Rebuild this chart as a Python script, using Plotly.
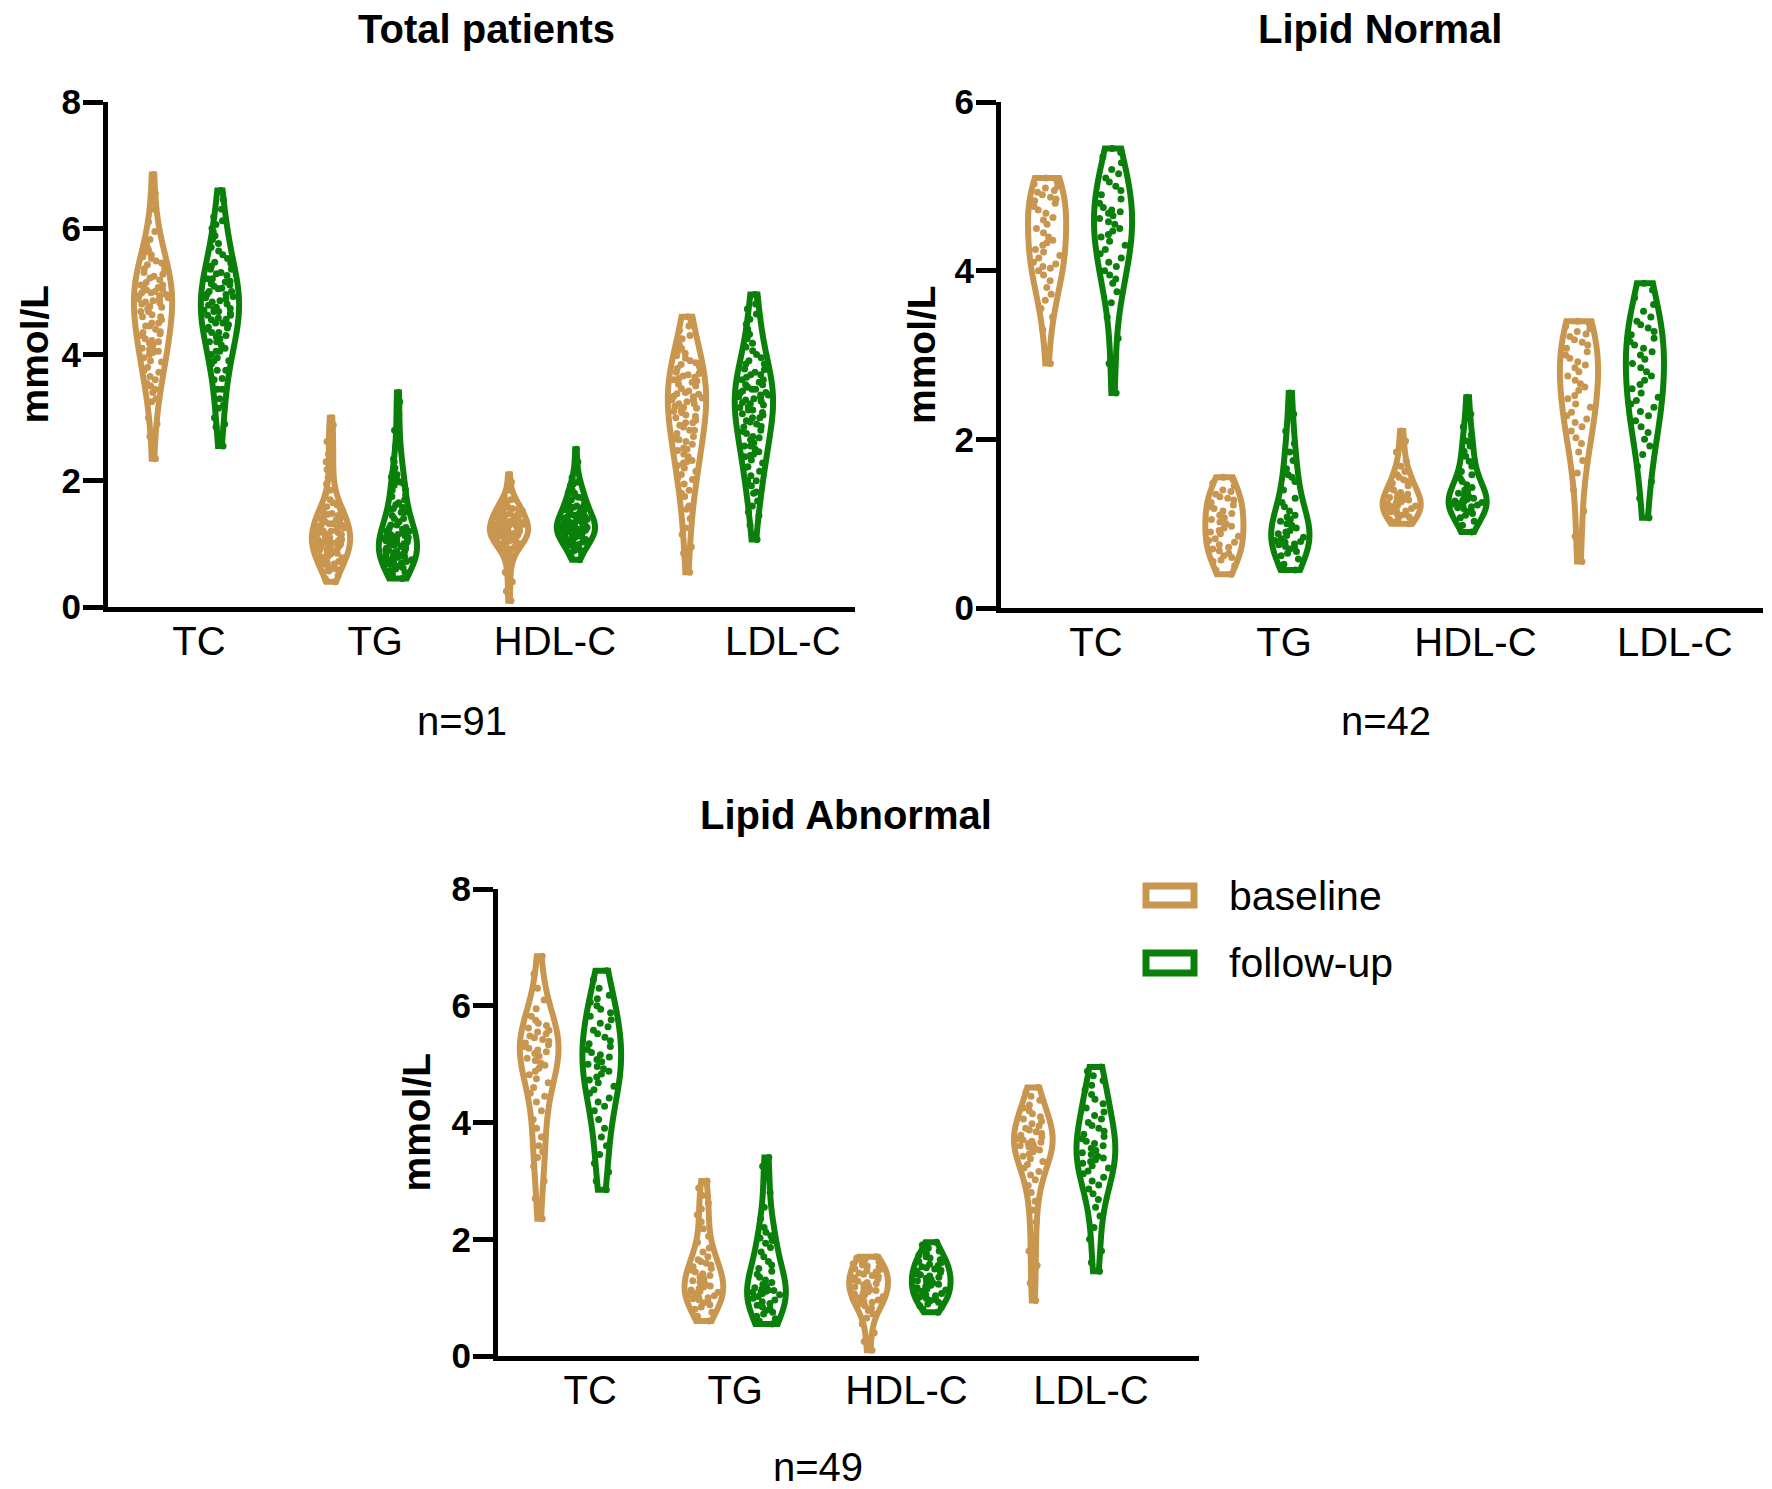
import numpy as np
import plotly.graph_objects as go

categories = ["TC", "TG", "HDL-C", "LDL-C"]
titles = ["Total patients", "Lipid Normal", "Lipid Abnormal"]
n_labels = ["n=91", "n=42", "n=49"]
group_names = ["baseline", "follow-up"]
y_ticks_8 = [0, 2, 4, 6, 8]
y_ticks_6 = [0, 2, 4, 6]

# ---- Lipid Normal (n=42) ----
norm_tc_base = [2.90, 3.30, 3.45, 3.55, 3.65, 3.72, 3.80, 3.88, 3.95, 4.00, 4.03, 4.05, 4.08, 4.10, 4.15, 4.18, 4.22, 4.25, 4.30, 4.33, 4.36, 4.40, 4.45, 4.50, 4.55, 4.60, 4.63, 4.68, 4.72, 4.76, 4.80, 4.83, 4.85, 4.87, 4.90, 4.93, 4.95, 4.98, 5.00, 5.03, 5.06, 5.10]
norm_tc_fu = [2.55, 2.90, 3.20, 3.45, 3.62, 3.75, 3.85, 3.90, 3.95, 4.00, 4.05, 4.10, 4.15, 4.20, 4.25, 4.30, 4.35, 4.40, 4.43, 4.47, 4.50, 4.55, 4.58, 4.62, 4.65, 4.68, 4.70, 4.72, 4.75, 4.80, 4.85, 4.90, 4.95, 5.00, 5.05, 5.10, 5.15, 5.20, 5.28, 5.35, 5.40, 5.45]
norm_tg_base = [0.40, 0.45, 0.50, 0.55, 0.57, 0.60, 0.62, 0.65, 0.68, 0.70, 0.72, 0.75, 0.78, 0.80, 0.82, 0.85, 0.88, 0.90, 0.92, 0.95, 0.97, 1.00, 1.02, 1.05, 1.07, 1.10, 1.12, 1.15, 1.18, 1.20, 1.22, 1.25, 1.28, 1.30, 1.32, 1.35, 1.38, 1.40, 1.45, 1.48, 1.52, 1.55]
norm_tg_fu = [0.45, 0.52, 0.58, 0.62, 0.65, 0.67, 0.70, 0.72, 0.73, 0.75, 0.76, 0.78, 0.79, 0.80, 0.82, 0.84, 0.86, 0.88, 0.90, 0.92, 0.95, 0.98, 1.00, 1.03, 1.05, 1.08, 1.10, 1.15, 1.20, 1.25, 1.30, 1.40, 1.50, 1.55, 1.58, 1.65, 1.75, 1.85, 1.95, 2.10, 2.30, 2.55]
norm_hdl_base = [1.00, 1.02, 1.04, 1.05, 1.06, 1.08, 1.10, 1.11, 1.12, 1.14, 1.15, 1.16, 1.18, 1.19, 1.20, 1.21, 1.22, 1.24, 1.25, 1.26, 1.28, 1.29, 1.30, 1.31, 1.32, 1.34, 1.35, 1.37, 1.40, 1.42, 1.45, 1.48, 1.50, 1.52, 1.55, 1.58, 1.62, 1.68, 1.75, 1.85, 1.98, 2.10]
norm_hdl_fu = [0.90, 0.98, 1.03, 1.07, 1.10, 1.12, 1.14, 1.16, 1.18, 1.19, 1.20, 1.21, 1.22, 1.23, 1.24, 1.25, 1.26, 1.27, 1.28, 1.29, 1.30, 1.32, 1.34, 1.36, 1.38, 1.40, 1.43, 1.46, 1.50, 1.54, 1.58, 1.62, 1.68, 1.74, 1.80, 1.86, 1.92, 1.98, 2.05, 2.15, 2.30, 2.50]
norm_ldl_base = [0.55, 0.85, 1.15, 1.40, 1.60, 1.75, 1.85, 1.95, 2.02, 2.10, 2.15, 2.20, 2.24, 2.28, 2.32, 2.38, 2.42, 2.48, 2.52, 2.58, 2.62, 2.66, 2.70, 2.75, 2.80, 2.85, 2.88, 2.92, 2.96, 3.00, 3.04, 3.08, 3.12, 3.15, 3.18, 3.22, 3.25, 3.28, 3.31, 3.34, 3.37, 3.40]
norm_ldl_fu = [1.07, 1.30, 1.50, 1.68, 1.82, 1.92, 2.00, 2.08, 2.15, 2.22, 2.28, 2.33, 2.38, 2.42, 2.46, 2.50, 2.55, 2.60, 2.65, 2.70, 2.75, 2.80, 2.85, 2.90, 2.95, 3.00, 3.04, 3.08, 3.12, 3.16, 3.20, 3.24, 3.28, 3.32, 3.36, 3.40, 3.45, 3.52, 3.60, 3.68, 3.77, 3.85]

# ---- Lipid Abnormal (n=49) ----
abn_tc_base = [2.35, 2.70, 3.00, 3.25, 3.40, 3.50, 3.60, 3.75, 3.90, 4.05, 4.20, 4.35, 4.45, 4.50, 4.60, 4.68, 4.75, 4.82, 4.88, 4.93, 4.98, 5.02, 5.06, 5.10, 5.14, 5.18, 5.21, 5.24, 5.27, 5.30, 5.33, 5.36, 5.39, 5.42, 5.45, 5.48, 5.52, 5.55, 5.58, 5.62, 5.66, 5.70, 5.75, 5.82, 5.95, 6.10, 6.30, 6.55, 6.85]
abn_tc_fu = [2.85, 3.00, 3.15, 3.30, 3.45, 3.60, 3.75, 3.90, 4.05, 4.20, 4.28, 4.35, 4.42, 4.50, 4.56, 4.62, 4.68, 4.73, 4.78, 4.83, 4.88, 4.92, 4.96, 5.00, 5.04, 5.08, 5.12, 5.16, 5.20, 5.25, 5.30, 5.35, 5.40, 5.46, 5.52, 5.58, 5.64, 5.70, 5.76, 5.82, 5.88, 5.94, 6.00, 6.06, 6.12, 6.18, 6.30, 6.45, 6.60]
abn_tg_base = [0.60, 0.68, 0.75, 0.80, 0.84, 0.88, 0.91, 0.94, 0.96, 0.98, 1.00, 1.01, 1.03, 1.05, 1.07, 1.09, 1.11, 1.13, 1.15, 1.18, 1.20, 1.23, 1.26, 1.29, 1.32, 1.35, 1.38, 1.41, 1.44, 1.47, 1.50, 1.53, 1.56, 1.59, 1.62, 1.65, 1.70, 1.78, 1.85, 1.95, 2.05, 2.18, 2.30, 2.42, 2.52, 2.62, 2.75, 2.88, 3.00]
abn_tg_fu = [0.55, 0.60, 0.64, 0.68, 0.72, 0.75, 0.78, 0.81, 0.84, 0.87, 0.90, 0.93, 0.96, 0.99, 1.02, 1.05, 1.07, 1.09, 1.10, 1.11, 1.12, 1.13, 1.15, 1.17, 1.20, 1.23, 1.26, 1.30, 1.35, 1.40, 1.45, 1.50, 1.56, 1.62, 1.70, 1.78, 1.86, 1.93, 1.98, 2.02, 2.06, 2.12, 2.20, 2.35, 2.55, 2.80, 3.05, 3.25, 3.40]
abn_hdl_base = [0.10, 0.25, 0.40, 0.55, 0.65, 0.72, 0.78, 0.82, 0.86, 0.89, 0.92, 0.94, 0.96, 0.98, 1.00, 1.02, 1.04, 1.06, 1.08, 1.10, 1.12, 1.14, 1.16, 1.18, 1.20, 1.22, 1.24, 1.26, 1.28, 1.30, 1.32, 1.34, 1.36, 1.38, 1.40, 1.42, 1.44, 1.46, 1.48, 1.50, 1.52, 1.54, 1.56, 1.58, 1.60, 1.62, 1.65, 1.68, 1.70]
abn_hdl_fu = [0.75, 0.80, 0.83, 0.86, 0.89, 0.92, 0.95, 0.97, 0.99, 1.01, 1.03, 1.05, 1.07, 1.09, 1.11, 1.13, 1.15, 1.17, 1.19, 1.21, 1.23, 1.25, 1.27, 1.29, 1.31, 1.33, 1.35, 1.37, 1.39, 1.41, 1.43, 1.45, 1.47, 1.49, 1.51, 1.53, 1.55, 1.57, 1.60, 1.62, 1.65, 1.68, 1.70, 1.73, 1.76, 1.80, 1.85, 1.90, 1.95]
abn_ldl_base = [0.95, 1.25, 1.55, 1.80, 2.05, 2.30, 2.50, 2.65, 2.80, 2.92, 3.02, 3.10, 3.16, 3.22, 3.28, 3.33, 3.38, 3.42, 3.46, 3.50, 3.53, 3.56, 3.58, 3.60, 3.62, 3.64, 3.66, 3.68, 3.70, 3.72, 3.75, 3.78, 3.81, 3.84, 3.87, 3.90, 3.94, 3.98, 4.02, 4.06, 4.10, 4.15, 4.20, 4.25, 4.30, 4.38, 4.45, 4.52, 4.60]
abn_ldl_fu = [1.45, 1.60, 1.80, 2.00, 2.20, 2.40, 2.55, 2.68, 2.78, 2.86, 2.93, 3.00, 3.06, 3.12, 3.17, 3.22, 3.26, 3.30, 3.33, 3.36, 3.39, 3.42, 3.45, 3.48, 3.52, 3.56, 3.60, 3.64, 3.68, 3.72, 3.76, 3.80, 3.85, 3.90, 3.95, 4.00, 4.06, 4.12, 4.18, 4.25, 4.32, 4.40, 4.48, 4.56, 4.64, 4.72, 4.80, 4.88, 4.95]

normal_base = [norm_tc_base, norm_tg_base, norm_hdl_base, norm_ldl_base]
normal_fu = [norm_tc_fu, norm_tg_fu, norm_hdl_fu, norm_ldl_fu]
abn_base = [abn_tc_base, abn_tg_base, abn_hdl_base, abn_ldl_base]
abn_fu = [abn_tc_fu, abn_tg_fu, abn_hdl_fu, abn_ldl_fu]
# Total patients = Normal + Abnormal
total_base = [a + b for a, b in zip(normal_base, abn_base)]
total_fu = [a + b for a, b in zip(normal_fu, abn_fu)]

panels = [(total_base, total_fu), (normal_base, normal_fu), (abn_base, abn_fu)]

# ---------------- styling / layout ----------------
colors = ["#C9964F", "#0A800A"]
FONT = "Liberation Sans, Arial, sans-serif"
W, H = 1772, 1489
OFF = 8  # page body margin in the browser

def px(x):
    return (x - OFF) / W

def py(y):
    return 1 - (y - OFF) / H

boxes = [(108, 855, 102, 607), (1001, 1763, 102, 608), (498, 1199, 889, 1356)]  # l, r, t, b px
y_tops = [8, 6, 8]
x_ranges = [[-0.441, 3.756], [-0.446, 3.852], [-0.44, 3.816]]
group_offsets = [[-0.188, 0.188], [-0.186, 0.186], [-0.19, 0.19]]
violin_widths = [0.215, 0.215, 0.235]
label_pos = [[0.07, 1.06, 2.07, 3.35], [0.09, 1.15, 2.23, 3.355], [0.12, 1.0, 2.04, 3.16]]
title_xy = [(487, 29), (1380, 29), (846, 815)]
n_xy = [(462, 721), (1386, 721), (818, 1467)]
ytitle_x = [34, 921, 416]
BW_FACTOR = 1.25

def silverman(v):
    v = np.asarray(v, dtype=float)
    q75, q25 = np.percentile(v, [75, 25])
    s = min(np.std(v, ddof=1), (q75 - q25) / 1.349)
    return 1.059 * s * len(v) ** (-0.2)

fig = go.Figure()
layout = dict(
    width=W, height=H, margin=dict(l=0, r=0, t=0, b=0, autoexpand=False),
    paper_bgcolor="white", plot_bgcolor="white",
    violinmode="overlay",
    font=dict(family=FONT, color="black"),
    showlegend=False,
)

annotations, shapes = [], []
for p, (base, fu) in enumerate(panels):
    sfx = "" if p == 0 else str(p + 1)
    xa, ya = "x" + sfx, "y" + sfx
    for g, data in enumerate([base, fu]):
        for i, vals in enumerate(data):
            fig.add_trace(go.Violin(
                x=[i + group_offsets[p][g]] * len(vals), y=vals,
                name=group_names[g], xaxis=xa, yaxis=ya,
                showlegend=False, width=violin_widths[p],
                bandwidth=BW_FACTOR * silverman(vals),
                line=dict(color=colors[g], width=6), fillcolor="white",
                points="all", pointpos=0, jitter=0.85,
                marker=dict(color=colors[g], size=7, line=dict(width=0)),
                spanmode="hard", scalemode="width", box_visible=False,
                meanline_visible=False, hoverinfo="skip",
            ))
    l, r, t, b = boxes[p]
    top = y_tops[p]
    layout["xaxis" + sfx] = dict(
        domain=[px(l), px(r)], anchor=ya, automargin=False,
        range=x_ranges[p], tickvals=label_pos[p], ticktext=categories,
        showline=True, linewidth=5, linecolor="black",
        ticks="", showgrid=False, zeroline=False, ticklabelstandoff=-5,
        tickfont=dict(size=40, family=FONT, color="black"),
    )
    layout["yaxis" + sfx] = dict(
        domain=[py(b), py(t)], anchor=xa, automargin=False,
        range=[0, top], tickvals=(y_ticks_8 if top == 8 else y_ticks_6),
        showline=True, linewidth=5, linecolor="black",
        ticks="outside", ticklen=20, tickwidth=5, tickcolor="black",
        showgrid=False, zeroline=False, ticklabelstandoff=-5,
        tickfont=dict(size=35, family=FONT, color="black", weight="bold"),
    )
    tx, ty = title_xy[p]
    annotations.append(dict(text="<b>" + titles[p] + "</b>", x=px(tx), y=py(ty),
                            xref="paper", yref="paper", showarrow=False,
                            xanchor="center", yanchor="middle",
                            font=dict(size=40, family=FONT, color="black")))
    nx, ny = n_xy[p]
    annotations.append(dict(text=n_labels[p], x=px(nx), y=py(ny),
                            xref="paper", yref="paper", showarrow=False,
                            xanchor="center", yanchor="middle",
                            font=dict(size=40, family=FONT, color="black")))
    annotations.append(dict(text="<b>mmol/L</b>", x=px(ytitle_x[p]), y=py((t + b) / 2),
                            xref="paper", yref="paper", showarrow=False, textangle=-90,
                            xanchor="center", yanchor="middle",
                            font=dict(size=39, family=FONT, color="black")))

# legend drawn as outlined boxes + labels
legend_rows = [(886, 905), (953, 973)]
for g, (y0, y1) in enumerate(legend_rows):
    shapes.append(dict(type="rect", xref="paper", yref="paper",
                       x0=px(1146), x1=px(1194), y0=py(y1), y1=py(y0),
                       line=dict(color=colors[g], width=7), fillcolor="white"))
    annotations.append(dict(text=group_names[g], x=px(1227), y=py((y0 + y1) / 2),
                            xref="paper", yref="paper", showarrow=False,
                            xanchor="left", yanchor="middle",
                            font=dict(size=41, family=FONT, color="black")))

layout["annotations"] = annotations
layout["shapes"] = shapes
fig.update_layout(**layout)
fig.write_html("out.html")
